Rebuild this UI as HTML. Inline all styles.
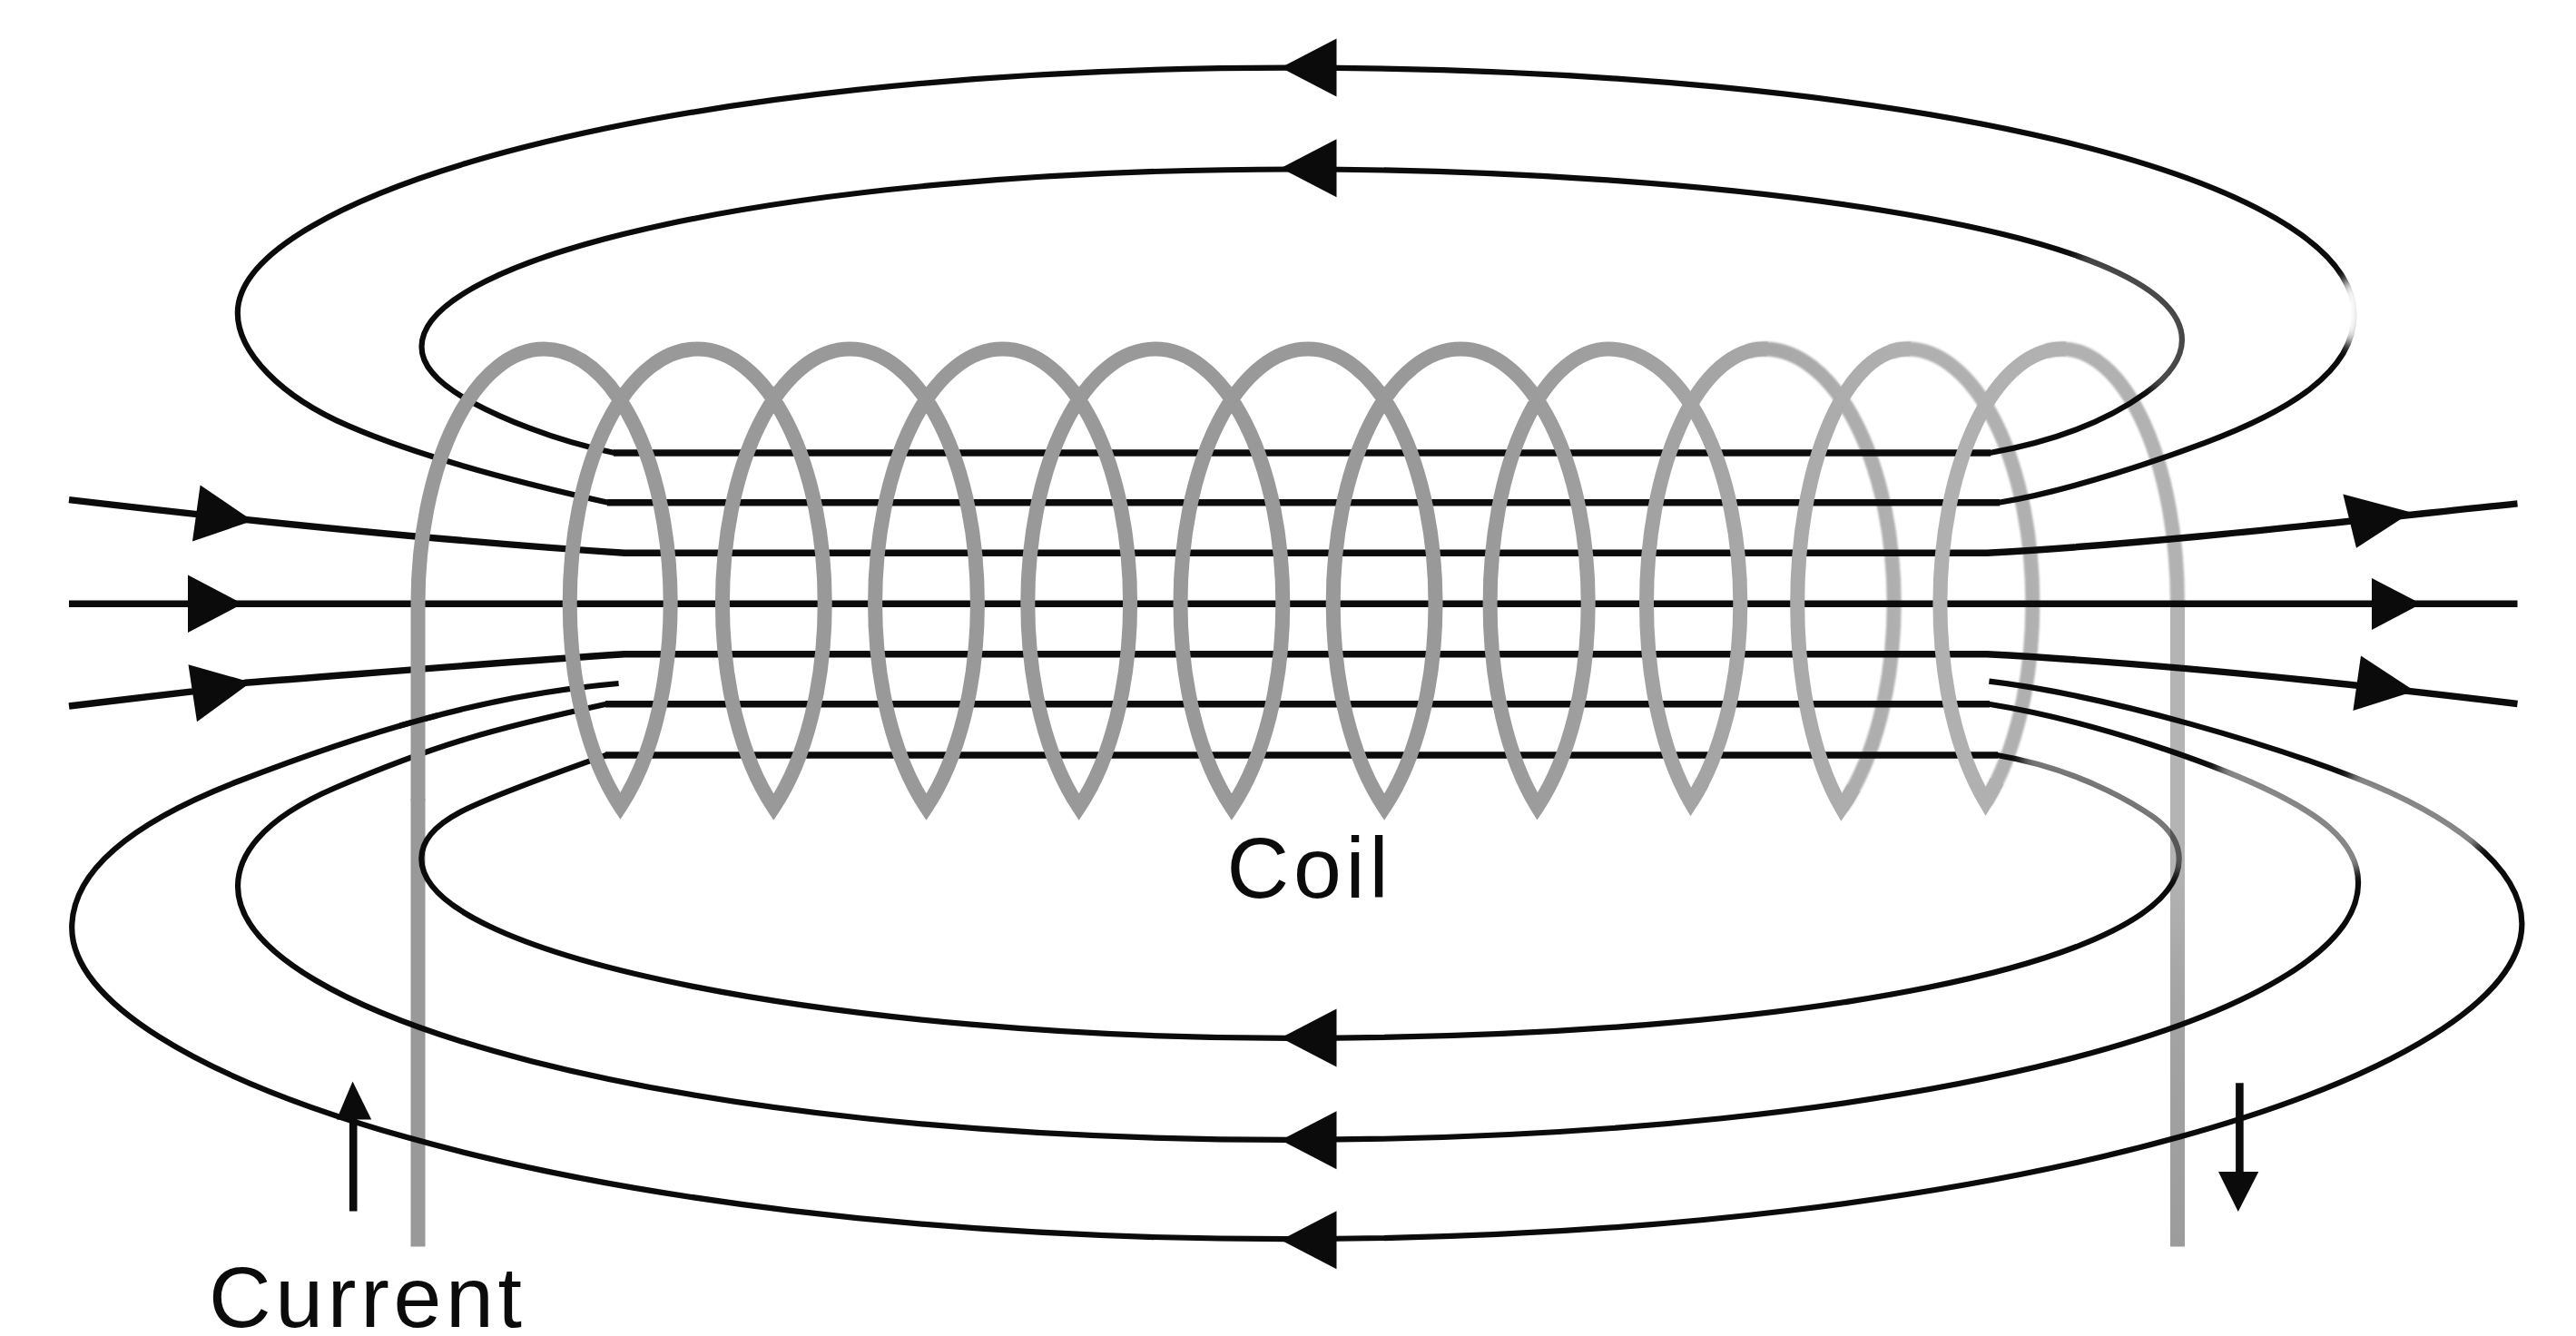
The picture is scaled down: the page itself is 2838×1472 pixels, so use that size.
<!DOCTYPE html>
<html lang="en"><head><meta charset="utf-8"><title>Solenoid magnetic field</title>
<style>
html,body{margin:0;padding:0;background:#fff;}
body{width:2838px;height:1472px;overflow:hidden;}
svg{display:block;font-family:"Liberation Sans",sans-serif;}
</style></head><body>
<svg width="2838" height="1472" viewBox="0 0 2838 1472">
<rect width="2838" height="1472" fill="#fff"/>
<defs><linearGradient id="cg" gradientUnits="userSpaceOnUse" x1="0" y1="0" x2="2838" y2="0"><stop offset="0" stop-color="#999"/><stop offset="0.57" stop-color="#999"/><stop offset="0.66" stop-color="#a4a4a4"/><stop offset="0.74" stop-color="#b0b0b0"/><stop offset="1" stop-color="#b4b4b4"/></linearGradient><linearGradient id="lg" gradientUnits="userSpaceOnUse" x1="0" y1="600" x2="0" y2="1374"><stop offset="0" stop-color="#b3b3b3"/><stop offset="0.45" stop-color="#b3b4b4"/><stop offset="0.65" stop-color="#a4a4a4"/><stop offset="1" stop-color="#9c9c9c"/></linearGradient><filter id="b1" filterUnits="userSpaceOnUse" x="1800" y="300" width="700" height="1172"><feGaussianBlur stdDeviation="1.3"/></filter><filter id="b8" x="-50%" y="-50%" width="200%" height="200%"><feGaussianBlur stdDeviation="7"/></filter><mask id="fade" maskUnits="userSpaceOnUse" x="0" y="0" width="2838" height="1472"><rect width="2838" height="1472" fill="#fff"/><g filter="url(#b8)" fill="none" stroke-linecap="round"><ellipse cx="2590" cy="343" rx="15" ry="38" fill="#000"/><path d="M2456 850 L2528 886 L2578 920 L2593 948" stroke="#777" stroke-width="26"/><path d="M2600 861 L2672 892 L2720 925" stroke="#777" stroke-width="26"/><path d="M2240 838 L2302 860 L2365 892 L2398 925 L2401 950" stroke="#888" stroke-width="26"/><path d="M2300 290 L2368 318 L2400 356 L2402 390 L2380 420" stroke="#bbb" stroke-width="26"/></g></mask></defs>
<g fill="none" stroke="url(#cg)" stroke-width="16" filter="url(#b1)">
<path d="M1925.5 387.2 A129.5 280.3 0 0 1 1943.5 384.5 A143.2 280.3 0 0 1 2086.7 664.8 A143.2 280.3 0 0 1 2028.9 889.8"/>
<path d="M2083.0 387.6 A120.8 280.3 0 0 1 2101.0 384.5 A138.4 280.3 0 0 1 2239.4 664.8 A138.4 280.3 0 0 1 2187.7 883.3"/>
<path d="M2254.0 387.0 A134.6 280.3 0 0 1 2272.0 384.5 A127.0 280.3 0 0 1 2399.0 664.8 v2"/>
</g>
<path d="M2399.0 665.3 V1373.5" fill="none" stroke="url(#lg)" stroke-width="16"/>
<path d="M460.5 880 V1373.5" fill="none" stroke="#999" stroke-width="16"/>
<g fill="none" stroke="#0b0b0b" stroke-linecap="butt" stroke-linejoin="round">
<g stroke-width="6.2" mask="url(#fade)">
<path d="M670.0 553.7 C617.5 542.0 479.7 510.9 383.8 469.2 C308.7 436.7 261.8 387.9 261.8 344.8 C261.8 217.1 721.2 74.7 1420.2 74.7 C2108.6 74.7 2593.5 195.4 2593.5 346.8 C2593.5 410.8 2518.7 454.1 2429.8 487.6 C2389.1 502.9 2283.0 540.7 2202.0 553.7"/>
<path d="M677.0 499.0 C607.3 484.8 549.1 458.9 520.0 443.2 C479.1 421.1 464.5 401.4 464.5 381.9 C464.5 283.2 860.9 186.5 1426.7 186.5 C1861.2 186.5 2403.9 246.4 2403.9 374.4 C2403.9 399.6 2383.5 418.8 2363.8 433.0 C2322.4 463.0 2266.4 485.7 2192.0 499.0"/>
<path d="M668.0 832.0 C623.3 847.9 542.0 876.4 506.6 895.0 C488.0 904.8 464.3 920.8 464.3 946.0 C464.3 1057.7 944.0 1143.9 1419.7 1143.9 C1989.3 1143.9 2400.7 1060.8 2400.7 946.5 C2400.7 923.0 2383.5 908.4 2372.9 900.6 C2365.5 895.3 2300.7 849.0 2200.0 832.0"/>
<path d="M668.0 775.8 C542.3 803.2 479.9 820.5 369.2 868.0 C285.3 904.0 262.0 944.4 262.0 976.5 C262.0 1117.8 738.7 1255.8 1418.8 1255.8 C2114.7 1255.8 2598.1 1119.6 2598.1 972.7 C2598.1 925.3 2549.8 894.1 2492.4 867.4 C2442.5 844.2 2316.8 796.2 2191.0 775.8"/>
<path d="M681.6 753.0 C536.7 765.1 396.6 808.7 261.9 861.0 C148.5 905.1 79.2 958.2 79.2 1022.2 C79.2 1180.7 616.9 1365.1 1418.0 1365.1 C2227.0 1365.1 2778.4 1180.6 2778.4 1018.0 C2778.4 953.8 2695.7 895.8 2593.5 856.3 C2510.0 824.0 2329.6 767.3 2191.4 750.7"/>
</g>
<g stroke-width="7.4">
<path d="M669 553.7H2203"/>
<path d="M676 499H2193"/>
<path d="M667 832H2201"/>
<path d="M667 775.8H2192"/>
<path d="M76 665.3H2773.5"/>
<path d="M76 550.7 C300 577 520 598 688 609.3 H2189 C2360 600 2580 575 2773.5 554.9"/>
<path d="M76 778 L212 761.8 Q242 756.5 270 752.3 C400 742.4 560 729 688 720.8 H2189 C2360 730 2580 752 2773.5 775.5"/>
</g></g>
<g fill="#0b0b0b">
<polygon points="1411.0,74.5 1472.5,42.5 1472.5,106.5"/>
<polygon points="1411.0,185.3 1472.5,153.3 1472.5,217.3"/>
<polygon points="1411.0,1143.6 1472.5,1111.6 1472.5,1175.6"/>
<polygon points="1411.0,1256.2 1472.5,1224.2 1472.5,1288.2"/>
<polygon points="1411.0,1366.2 1472.5,1334.2 1472.5,1398.2"/>
<polygon points="278.5,573.7 220.6,534.6 212.0,596.4"/>
<polygon points="267.5,665.3 207.0,633.6 207.0,697.0"/>
<polygon points="276.5,751.7 207.5,732.3 217.0,795.3"/>
<polygon points="2656.5,564.6 2581.3,544.5 2596.0,603.8"/>
<polygon points="2667.5,665.3 2613.0,637.0 2613.0,694.0"/>
<polygon points="2660.5,761.4 2601.0,722.4 2592.4,783.0"/>
<polygon points="388.5,1191.5 370.8,1233.4 409.2,1233.4"/>
<polygon points="2465.8,1335.0 2444.0,1291.0 2488.3,1291.0"/>
</g>
<g stroke="#0b0b0b" stroke-width="8.6" fill="none"><path d="M389.2 1225V1334.5"/><path d="M2467.4 1193.3V1300"/></g>
<g fill="none" stroke="url(#cg)" stroke-width="16" stroke-linejoin="miter" stroke-miterlimit="4">
<path d="M460.5 882 V664.8 A139.0 280.3 0 0 1 599.5 384.5 A139.0 280.3 0 0 1 683.4 888.3 A140.5 280.3 0 0 1 627.7 664.8 A140.5 280.3 0 0 1 768.2 384.5 A140.5 280.3 0 0 1 908.7 664.8 A140.5 280.3 0 0 1 852.3 889.3 A140.5 280.3 0 0 1 795.9 664.8 A140.5 280.3 0 0 1 936.4 384.5 A140.5 280.3 0 0 1 1076.9 664.8 A140.5 280.3 0 0 1 1020.5 889.3 A140.5 280.3 0 0 1 964.1 664.8 A140.5 280.3 0 0 1 1104.6 384.5 A140.5 280.3 0 0 1 1245.1 664.8 A140.5 280.3 0 0 1 1188.7 889.3 A140.5 280.3 0 0 1 1132.3 664.8 A140.5 280.3 0 0 1 1272.8 384.5 A140.5 280.3 0 0 1 1413.3 664.8 A140.5 280.3 0 0 1 1356.9 889.3 A140.5 280.3 0 0 1 1300.5 664.8 A140.5 280.3 0 0 1 1441.0 384.5 A140.5 280.3 0 0 1 1581.5 664.8 A140.5 280.3 0 0 1 1525.1 889.3 A140.5 280.3 0 0 1 1468.7 664.8 A140.5 280.3 0 0 1 1609.2 384.5 A140.5 280.3 0 0 1 1749.7 664.8 A140.5 280.3 0 0 1 1693.7 888.7 A130.9 280.3 0 0 1 1641.6 664.8 A130.9 280.3 0 0 1 1772.5 384.5 A144.8 280.3 0 0 1 1917.3 664.8 A144.8 280.3 0 0 1 1862.8 884.0 "/>
<path d="M1875.7 861.5 A144.8 280.3 0 0 1 1862.8 884.0 A129.5 280.3 0 0 1 1814.0 664.8 A129.5 280.3 0 0 1 1943.5 384.5 A143.2 280.3 0 0 1 1947.5 384.6"/>
<path d="M2042.1 868.1 A143.2 280.3 0 0 1 2028.9 889.8 A120.8 280.3 0 0 1 1980.2 664.8 A120.8 280.3 0 0 1 2101.0 384.5 A138.4 280.3 0 0 1 2105.0 384.6"/>
<path d="M2200.0 860.7 A138.4 280.3 0 0 1 2187.7 883.3 A134.6 280.3 0 0 1 2137.4 664.8 A134.6 280.3 0 0 1 2272.0 384.5 A127.0 280.3 0 0 1 2276.0 384.6"/>
</g>
<clipPath id="cl1"><rect x="440" y="778" width="42" height="32"/></clipPath>
<path d="M681.6 753.0 C536.7 765.1 396.6 808.7 261.9 861.0 C148.5 905.1 79.2 958.2 79.2 1022.2 C79.2 1180.7 616.9 1365.1 1418.0 1365.1 C2227.0 1365.1 2778.4 1180.6 2778.4 1018.0 C2778.4 953.8 2695.7 895.8 2593.5 856.3 C2510.0 824.0 2329.6 767.3 2191.4 750.7" fill="none" stroke="#0b0b0b" stroke-width="6.2" clip-path="url(#cl1)"/>
<text x="1351.5" y="988.5" font-size="95" letter-spacing="4.8" fill="#0b0b0b">Coil</text>
<text x="230" y="1461.5" font-size="95" letter-spacing="4.7" fill="#0b0b0b">Current</text>
</svg>
</body></html>
